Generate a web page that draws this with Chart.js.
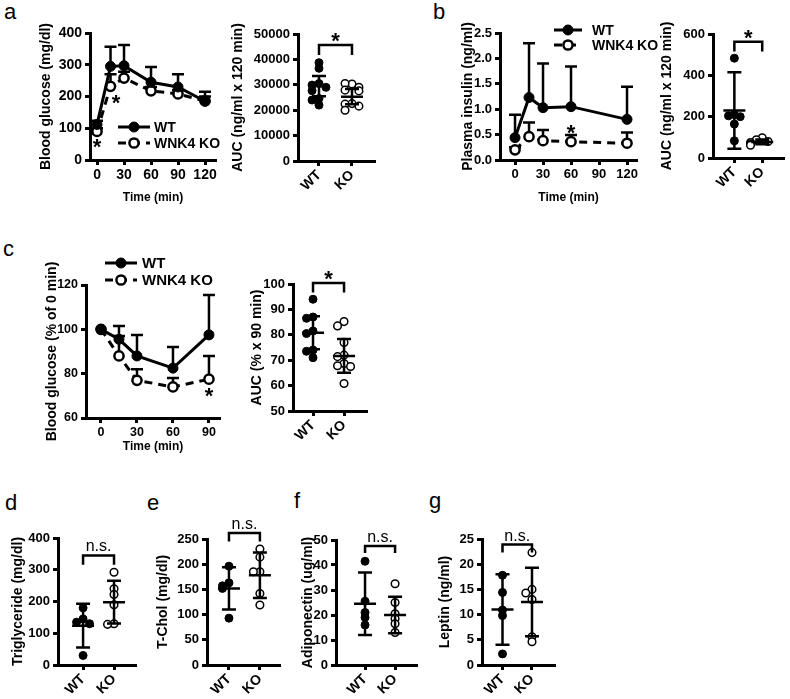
<!DOCTYPE html>
<html>
<head>
<meta charset="utf-8">
<script src="https://cdn.jsdelivr.net/npm/chart.js@4.4.0/dist/chart.umd.min.js"></script>
<style>
  body { margin: 0; background: #fff; width: 790px; height: 699px; position: relative; overflow: hidden;
         font-family: "Liberation Sans", Arial, sans-serif; }
  canvas { position: absolute; }
  .tag { position: absolute; font-size: 22px; line-height: 22px; color: #000; }
</style>
</head>
<body>
<div class="tag" style="left:4px;top:1px">a</div>
<div class="tag" style="left:433px;top:1px">b</div>
<div class="tag" style="left:3px;top:238px">c</div>
<div class="tag" style="left:5px;top:492px">d</div>
<div class="tag" style="left:147px;top:492px">e</div>
<div class="tag" style="left:294px;top:490px">f</div>
<div class="tag" style="left:429px;top:490px">g</div>

<canvas id="gtt"></canvas>
<canvas id="gttAuc"></canvas>
<canvas id="ins"></canvas>
<canvas id="insAuc"></canvas>
<canvas id="itt"></canvas>
<canvas id="ittAuc"></canvas>
<canvas id="tg"></canvas>
<canvas id="tchol"></canvas>
<canvas id="adipo"></canvas>
<canvas id="leptin"></canvas>

<script>
const groups = ['WT', 'KO'];

// a: glucose tolerance test
const gttTime = [0, 15, 30, 60, 90, 120];
const gttWt = [112, 295, 297, 245, 230, 185];
const gttWtSd = [12, 62, 65, 48, 40, 30];
const gttKo = [90, 232, 258, 218, 208, 186];
const gttKoSd = [10, 38, 20, 12, 12, 14];
const gttAucWt = [38700, 36500, 30500, 29900, 29000, 27700, 24600, 24000, 22000];
const gttAucKo = [30300, 30500, 29000, 27900, 27600, 22600, 22400, 21600, 20000];
const gttAucMean = [29500, 25300];
const gttAucSd = [4000, 3000];

// b: plasma insulin
const insTime = [0, 15, 30, 60, 120];
const insWt = [0.44, 1.23, 1.03, 1.05, 0.80];
const insWtSd = [0.45, 1.07, 0.87, 0.79, 0.64];
const insKo = [0.20, 0.46, 0.38, 0.36, 0.33];
const insKoSd = [0.05, 0.28, 0.21, 0.13, 0.21];
const insAucWt = [483, 210, 204, 200, 164, 83];
const insAucKo = [98, 88, 80, 75, 68, 62];
const insAucMean = [230, 78];
const insAucSd = [185, 12];

// c: insulin tolerance test
const ittTime = [0, 15, 30, 60, 90];
const ittWt = [100, 95.5, 88, 82.5, 97.5];
const ittWtSd = [0, 6, 9.5, 9.5, 18];
const ittKo = [100, 88, 77, 74, 77.5];
const ittKoSd = [0, 9, 5, 4, 10.5];
const ittAucWt = [94, 87, 86.5, 81.5, 80.5, 74, 73.5, 71];
const ittAucKo = [85.2, 83.5, 77, 72, 71.4, 68.7, 67.8, 67.5, 60.8];
const ittAucMean = [80.8, 71.7];
const ittAucSd = [6.5, 6.6];

// d-g: serum parameters
const tgWt = [180, 145, 135, 130, 30];
const tgKo = [292, 240, 222, 190, 130, 128];
const tgMean = [124, 198];
const tgSd = [69, 67];
const tcWt = [196, 163, 157, 152, 93];
const tcKo = [230, 214, 185, 185, 142, 119];
const tcMean = [152, 178];
const tcSd = [42, 45];
const adWt = [41.5, 25.5, 21, 19, 16];
const adKo = [32.5, 25, 20.5, 18.5, 16.5, 13];
const adMean = [24.5, 20];
const adSd = [12.5, 7.3];
const lepWt = [17.8, 14.4, 10.9, 9.8, 2.2];
const lepKo = [22.3, 15.0, 14.3, 13.0, 5.6, 4.6];
const lepMean = [11, 12.5];
const lepSd = [7, 6.8];

const FONT = '"Liberation Sans", Arial, sans-serif';
Chart.defaults.font.family = FONT;
Chart.defaults.color = '#000';
const yTitleFont = { family: FONT, size: 14, weight: 'bold' };
const xTitleFont = { family: FONT, size: 12, weight: 'bold' };
const gridStyle = { drawOnChartArea: false, tickLength: 5, tickWidth: 3, tickColor: '#000' };
const borderStyle = { color: '#000', width: 3 };

function bold(size) {
  return { family: FONT, size: size, weight: 'bold' };
}

// upper error bars for the time courses
const errorBars = {
  id: 'errorBars',
  beforeDatasetsDraw(chart) {
    const { ctx, scales: { x, y } } = chart;
    ctx.save();
    ctx.strokeStyle = '#000';
    ctx.lineWidth = 2.5;
    chart.data.datasets.forEach(ds => {
      if (!ds.sd) return;
      ds.data.forEach((p, i) => {
        if (!ds.sd[i]) return;
        const px = x.getPixelForValue(p.x);
        const y0 = y.getPixelForValue(p.y);
        const y1 = y.getPixelForValue(p.y + ds.sd[i]);
        ctx.beginPath();
        ctx.moveTo(px, y0); ctx.lineTo(px, y1);
        ctx.moveTo(px - 6, y1); ctx.lineTo(px + 6, y1);
        ctx.stroke();
      });
    });
    ctx.restore();
  }
};

// mean +/- SD for the dot plots
const meanSd = {
  id: 'meanSd',
  afterDatasetsDraw(chart, args, opts) {
    const { ctx, scales: { x, y } } = chart;
    ctx.save();
    ctx.strokeStyle = '#000';
    ctx.lineWidth = 2.5;
    opts.mean.forEach((m, i) => {
      const px = x.getPixelForValue(i + 1);
      const pm = y.getPixelForValue(m);
      const lo = y.getPixelForValue(m - opts.sd[i]);
      const hi = y.getPixelForValue(m + opts.sd[i]);
      ctx.beginPath();
      ctx.moveTo(px - 11, pm); ctx.lineTo(px + 11, pm);
      ctx.moveTo(px, lo); ctx.lineTo(px, hi);
      ctx.moveTo(px - 7, lo); ctx.lineTo(px + 7, lo);
      ctx.moveTo(px - 7, hi); ctx.lineTo(px + 7, hi);
      ctx.stroke();
    });
    ctx.restore();
  }
};

// significance brackets and stars
const notes = {
  id: 'notes',
  afterDraw(chart, args, opts) {
    const { ctx, scales: { x, y } } = chart;
    ctx.save();
    ctx.strokeStyle = '#000';
    ctx.fillStyle = '#000';
    ctx.lineWidth = 2.5;
    ctx.textAlign = 'center';
    ctx.textBaseline = 'alphabetic';
    (opts.brackets || []).forEach(b => {
      const x1 = x.getPixelForValue(1), x2 = x.getPixelForValue(2);
      const yl = y.getPixelForValue(b.lo), yh = y.getPixelForValue(b.hi);
      ctx.beginPath();
      ctx.moveTo(x1, yl); ctx.lineTo(x1, yh); ctx.lineTo(x2, yh); ctx.lineTo(x2, yl);
      ctx.stroke();
      if (b.text === '*') {
        ctx.font = 'bold 22px ' + FONT;
        ctx.fillText('*', (x1 + x2) / 2, yh - 9 + 12.5);
      } else {
        ctx.font = '16px ' + FONT;
        ctx.fillText(b.text, (x1 + x2) / 2, yh - 8 + 4);
      }
    });
    (opts.stars || []).forEach(s => {
      ctx.font = 'bold 22px ' + FONT;
      ctx.fillText('*', x.getPixelForValue(s.x), y.getPixelForValue(s.y) + 12.5);
    });
    ctx.restore();
  }
};

// legend drawn as line + marker samples
const lineKey = {
  id: 'lineKey',
  afterDraw(chart, args, opts) {
    if (!opts.rows) return;
    const ctx = chart.ctx;
    chart.data.datasets.forEach((ds, i) => {
      const y = opts.rows[i];
      ctx.save();
      ctx.strokeStyle = '#000';
      ctx.lineWidth = 3;
      ctx.setLineDash(ds.borderDash || []);
      ctx.beginPath(); ctx.moveTo(opts.x0, y); ctx.lineTo(opts.x1, y); ctx.stroke();
      ctx.setLineDash([]);
      ctx.beginPath();
      ctx.arc((opts.x0 + opts.x1) / 2, y, ds.pointRadius, 0, Math.PI * 2);
      ctx.fillStyle = ds.pointBackgroundColor;
      ctx.fill();
      ctx.lineWidth = ds.pointBorderWidth;
      ctx.stroke();
      ctx.fillStyle = '#000';
      ctx.font = 'bold ' + opts.size + 'px ' + FONT;
      ctx.textBaseline = 'middle';
      ctx.fillText(ds.label, opts.tx, y + 1);
      ctx.restore();
    });
  }
};

function pairs(xs, ys) {
  return xs.map((t, i) => ({ x: t, y: ys[i] }));
}

// spread points with close values sideways, like a dot plot
function spread(vals, gx, range) {
  const out = [];
  vals.forEach(v => {
    const k = out.filter(p => Math.abs(p.y - v) < range * 0.04).length;
    const off = k === 0 ? 0 : (k % 2 ? -1 : 1) * Math.min(Math.ceil(k / 2), 2) * 0.21;
    out.push({ x: gx + off, y: v });
  });
  return out;
}

function yAxis(min, max, step, title, pad, width, size, fmt) {
  return {
    type: 'linear', min, max,
    ticks: { stepSize: step, font: bold(size), color: '#000', padding: 3, callback: fmt || (v => String(v)) },
    grid: gridStyle,
    border: borderStyle,
    title: { display: true, text: title, font: yTitleFont, color: '#000', padding: { top: pad, bottom: 0 } },
    afterFit: s => { s.width = width; }
  };
}

function timeAxis(min, max, ticks, height, pb, size) {
  return {
    type: 'linear', min, max,
    afterBuildTicks: s => { s.ticks = ticks.map(v => ({ value: v })); },
    ticks: { autoSkip: false, minRotation: 0, maxRotation: 0, font: bold(size), color: '#000', padding: 2 },
    grid: gridStyle,
    border: borderStyle,
    title: { display: true, text: 'Time (min)', font: xTitleFont, color: '#000', padding: { top: 0, bottom: pb } },
    afterFit: s => { s.height = height; }
  };
}

function groupAxis(min, max, height) {
  return {
    type: 'linear', min, max,
    afterBuildTicks: s => { s.ticks = groups.map((g, i) => ({ value: i + 1 })); },
    ticks: { autoSkip: false, minRotation: 45, maxRotation: 45, font: bold(14), color: '#000', padding: 1,
             callback: v => groups[v - 1] },
    grid: gridStyle,
    border: borderStyle,
    afterFit: s => { s.height = height; }
  };
}

// place a canvas so that its chart area lands on the box (page pixels)
function panel(id, box, cfg) {
  const cv = document.getElementById(id);
  cv.width = box.r - box.l + box.yw + box.pr;
  cv.height = box.b - box.t + box.pt + box.xh;
  cv.style.left = (box.l - box.yw) + 'px';
  cv.style.top = (box.t - box.pt) + 'px';
  cfg.options.responsive = false;
  cfg.options.animation = false;
  cfg.options.events = [];
  cfg.options.layout = { padding: { top: box.pt, right: box.pr, left: 0, bottom: 0 } };
  return new Chart(cv, cfg);
}

const wtLine = { borderColor: '#000', borderWidth: 3, pointRadius: 5, pointBackgroundColor: '#000',
                 pointBorderColor: '#000', pointBorderWidth: 1, tension: 0, clip: false };
const koLine = { borderColor: '#000', borderWidth: 3, borderDash: [8, 6], pointRadius: 4.6, pointBackgroundColor: '#fff',
                 pointBorderColor: '#000', pointBorderWidth: 2.5, tension: 0, clip: false };
const wtDot = { pointRadius: 4, pointBackgroundColor: '#000', pointBorderColor: '#000', pointBorderWidth: 1, clip: false };
const koDot = { pointRadius: 3.8, pointBackgroundColor: '#fff', pointBorderColor: '#000', pointBorderWidth: 1.5, clip: false };

function timeChart(id, box, o) {
  return panel(id, box, {
    type: 'line',
    data: {
      datasets: [
        Object.assign({ label: 'WT', data: pairs(o.time, o.wt), sd: o.wtSd }, wtLine),
        Object.assign({ label: 'WNK4 KO', data: pairs(o.time, o.ko), sd: o.koSd }, koLine)
      ]
    },
    options: {
      scales: {
        x: timeAxis(o.xmin, o.xmax, o.ticks, box.xh, o.pb, o.size),
        y: yAxis(o.ymin, o.ymax, o.step, o.title, o.pad, box.yw, o.size, o.fmt)
      },
      plugins: { legend: { display: false }, tooltip: { enabled: false }, lineKey: o.key, notes: { stars: o.stars } }
    },
    plugins: [errorBars, lineKey, notes]
  });
}

function dotChart(id, box, o) {
  const range = o.ymax - o.ymin;
  return panel(id, box, {
    type: 'scatter',
    data: {
      datasets: [
        Object.assign({ label: 'WT', data: spread(o.wt, 1, range) }, wtDot),
        Object.assign({ label: 'KO', data: spread(o.ko, 2, range) }, koDot)
      ]
    },
    options: {
      scales: {
        x: groupAxis(o.xmin, o.xmax, box.xh),
        y: yAxis(o.ymin, o.ymax, o.step, o.title, o.pad, box.yw, o.size || 13)
      },
      plugins: { legend: { display: false }, tooltip: { enabled: false },
                 meanSd: { mean: o.mean, sd: o.sd }, notes: { brackets: [o.bracket] } }
    },
    plugins: [meanSd, notes]
  });
}

// a
timeChart('gtt', { l: 90, r: 216, t: 33, b: 160, yw: 90, xh: 50, pt: 13, pr: 14 }, {
  time: gttTime, wt: gttWt, wtSd: gttWtSd, ko: gttKo, koSd: gttKoSd,
  xmin: -7.8, xmax: 132.2, ticks: [0, 30, 60, 90, 120], pb: 4.8, size: 14,
  ymin: 0, ymax: 400, step: 100, title: 'Blood glucose (mg/dl)', pad: 37.6,
  key: { rows: [107, 123], x0: 118, x1: 150, tx: 154, size: 14 },
  stars: [{ x: 0, y: 58 }, { x: 21, y: 198 }]
});
dotChart('gttAuc', { l: 298, r: 375, t: 34, b: 161, yw: 73, xh: 35, pt: 14, pr: 8 }, {
  wt: gttAucWt, ko: gttAucKo, mean: gttAucMean, sd: gttAucSd,
  xmin: 0.364, xmax: 2.697, ymin: 0, ymax: 50000, step: 10000,
  title: 'AUC (ng/ml x 120 min)', pad: 4.6, bracket: { lo: 41700, hi: 45700, text: '*' }
});

// b
timeChart('ins', { l: 500, r: 637, t: 33, b: 160, yw: 50, xh: 50, pt: 18, pr: 25 }, {
  time: insTime, wt: insWt, wtSd: insWtSd, ko: insKo, koSd: insKoSd,
  xmin: -16.1, xmax: 130.7, ticks: [0, 30, 60, 90, 120], pb: 4.8, size: 13,
  ymin: 0, ymax: 2.5, step: 0.5, title: 'Plasma insulin (ng/ml)', pad: 9.6, fmt: v => v.toFixed(1),
  key: { rows: [15, 30], x0: 104, x1: 132, tx: 142, size: 14 },
  stars: [{ x: 60, y: 0.63 }]
});
dotChart('insAuc', { l: 713, r: 790, t: 34, b: 158, yw: 63, xh: 35, pt: 14, pr: 0 }, {
  wt: insAucWt, ko: insAucKo, mean: insAucMean, sd: insAucSd,
  xmin: 0.233, xmax: 2.8, ymin: 0, ymax: 600, step: 200,
  title: 'AUC (ng/ml x 120 min)', pad: 8.6, bracket: { lo: 515, hi: 563, text: '*' }
});

// c
timeChart('itt', { l: 86, r: 220, t: 285, b: 418, yw: 86, xh: 45, pt: 40, pr: 12 }, {
  time: ittTime, wt: ittWt, wtSd: ittWtSd, ko: ittKo, koSd: ittKoSd,
  xmin: -12.5, xmax: 99.2, ticks: [0, 30, 60, 90], pb: 8.8, size: 12.5,
  ymin: 60, ymax: 120, step: 20, title: 'Blood glucose (% of 0 min)', pad: 43.6,
  key: { rows: [18, 35], x0: 105, x1: 137, tx: 142, size: 15 },
  stars: [{ x: 90, y: 72.5 }]
});
dotChart('ittAuc', { l: 293, r: 367, t: 284, b: 411, yw: 53, xh: 35, pt: 18, pr: 8 }, {
  wt: ittAucWt, ko: ittAucKo, mean: ittAucMean, sd: ittAucSd,
  xmin: 0.355, xmax: 2.74, ymin: 50, ymax: 100, step: 10,
  title: 'AUC (% x 90 min)', pad: 8.6, bracket: { lo: 96.7, hi: 100.4, text: '*' }
});

// d-g
dotChart('tg', { l: 58, r: 136, t: 538, b: 665, yw: 58, xh: 34, pt: 30, pr: 8 }, {
  wt: tgWt, ko: tgKo, mean: tgMean, sd: tgSd,
  xmin: 0.19, xmax: 2.71, ymin: 0, ymax: 400, step: 100,
  title: 'Triglyceride (mg/dl)', pad: 9.6, bracket: { lo: 316, hi: 345, text: 'n.s.' }
});
dotChart('tchol', { l: 207, r: 280, t: 539, b: 665, yw: 57, xh: 34, pt: 30, pr: 8 }, {
  wt: tcWt, ko: tcKo, mean: tcMean, sd: tcSd,
  xmin: 0.29, xmax: 2.65, ymin: 0, ymax: 250, step: 50,
  title: 'T-Chol (mg/dl)', pad: 4.6, bracket: { lo: 245, hi: 262, text: 'n.s.' }
});
dotChart('adipo', { l: 336, r: 417, t: 540, b: 665, yw: 46, xh: 34, pt: 30, pr: 8 }, {
  wt: adWt, ko: adKo, mean: adMean, sd: adSd,
  xmin: 0.033, xmax: 2.73, ymin: 0, ymax: 50, step: 10,
  title: 'Adiponectin (ug/ml)', pad: 9.6, bracket: { lo: 44.8, hi: 47.6, text: 'n.s.' }
});
dotChart('leptin', { l: 482, r: 555, t: 539, b: 665, yw: 52, xh: 34, pt: 30, pr: 8 }, {
  wt: lepWt, ko: lepKo, mean: lepMean, sd: lepSd,
  xmin: 0.305, xmax: 2.78, ymin: 0, ymax: 25, step: 5,
  title: 'Leptin (ng/ml)', pad: 6.6, bracket: { lo: 22.3, hi: 23.9, text: 'n.s.' }
});
</script>
</body>
</html>
